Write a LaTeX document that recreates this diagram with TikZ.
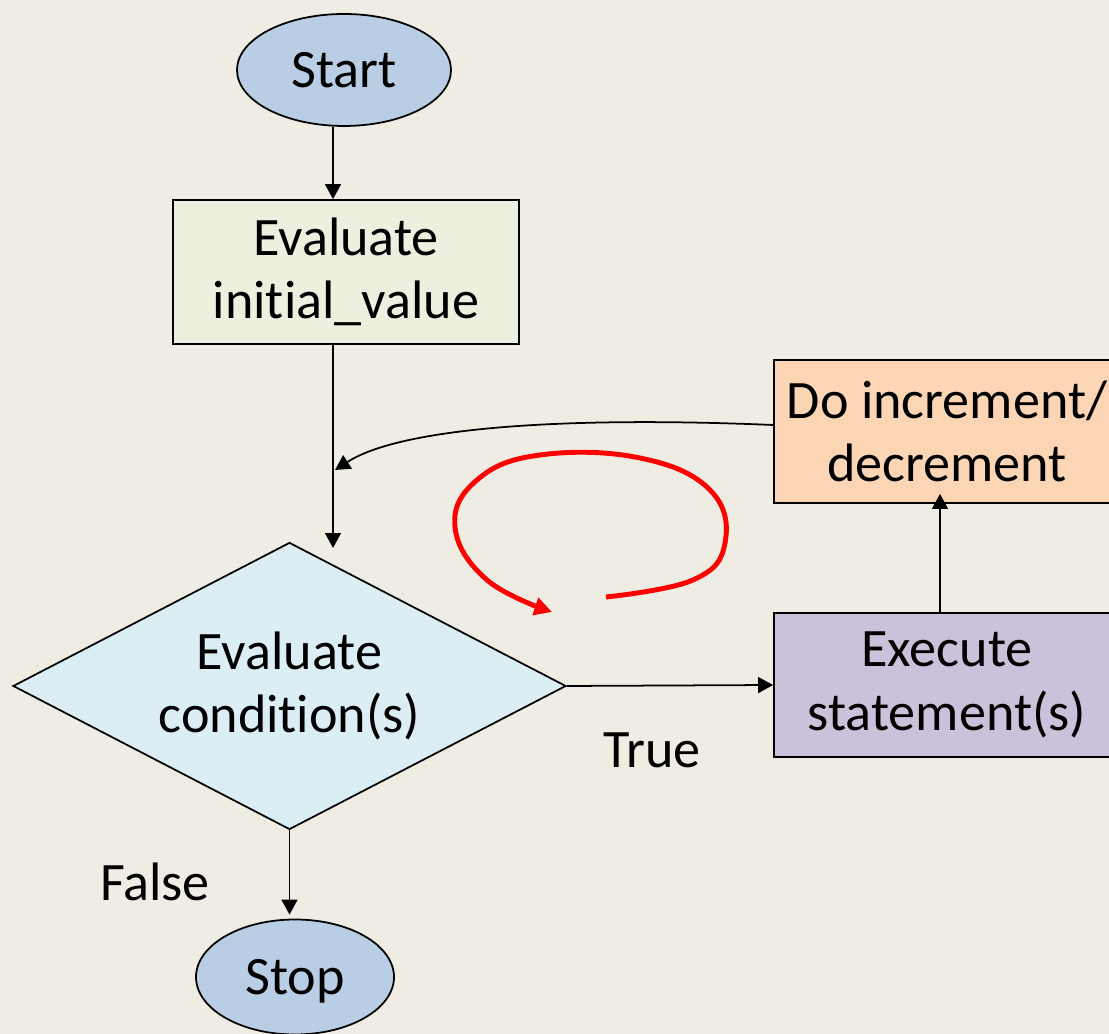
\documentclass[tikz,border=0pt]{standalone}
\usepackage{fontspec}
\setmainfont{Carlito}[Ligatures=NoCommon]
\usepackage{xcolor}
\usetikzlibrary{shapes.geometric, arrows.meta, positioning}

\definecolor{paper}{RGB}{239,236,228}
\definecolor{termblue}{RGB}{185,205,229}
\definecolor{initgreen}{RGB}{235,241,222}
\definecolor{condblue}{RGB}{219,238,244}
\definecolor{incorange}{RGB}{252,213,181}
\definecolor{execpurple}{RGB}{204,193,218}
\newcommand{\chartfont}{\fontsize{30.8}{36}\selectfont}

\begin{document}
\begin{tikzpicture}[
    terminal/.style={
        ellipse, draw=black, line width=1pt,
        minimum width=4.28cm, minimum height=2.24cm,
        inner sep=0pt, text depth=0pt, font=\chartfont
    },
    process/.style={
        rectangle, draw=black, line width=1pt,
        minimum width=6.92cm, minimum height=2.88cm,
        inner sep=0pt, align=center, font=\chartfont
    },
    decision/.style={
        diamond, draw=black, line width=1pt, fill=condblue,
        minimum width=11.06cm, minimum height=5.74cm, aspect=1.93,
        inner sep=0pt, align=center, font=\chartfont
    },
    flow/.style={-{Triangle[length=8.5pt, width=9pt]}, line width=1pt, draw=black},
    loopmark/.style={-{Triangle[length=10pt, width=10pt]}, line width=2.8pt, draw=red},
    branch/.style={font=\chartfont}
]

% Page and background
\useasboundingbox (0,0) rectangle (22.18,20.68);
\fill[paper] (0,0) rectangle (22.18,20.68);
\clip (0,0) rectangle (22.18,20.68);

% Main column
\coordinate (mainx) at (6.66,0);
\coordinate (join) at (6.66,9.72);
\coordinate (loopin) at (6.70,11.28);

% Nodes
\node[terminal, fill=termblue] (start) at (6.88,19.28) {Start};
\node[process, fill=initgreen] (init) at (6.92,15.24) {Evaluate\\initial\_value};
\node[decision] (cond) at (5.79,6.96) {Evaluate\\condition(s)};
\node[terminal, fill=termblue, minimum width=3.96cm, minimum height=2.3cm] (stop) at (5.90,1.14) {Stop};
\node[process, fill=incorange, minimum height=2.86cm] (inc) at (18.94,12.05) {Do increment/\\decrement};
\node[process, fill=execpurple] (exec) at (18.94,6.98) {Execute\\statement(s)};

% Branch labels
\node[branch] (lbltrue) at (13.04,5.68) {True};
\node[branch] (lblfalse) at (3.10,3.04) {False};

% Connectors
\draw[flow] (start.south -| mainx) -- (init.north -| mainx);
\draw[flow] (init.south -| mainx) -- (join);
\draw[flow] (cond.east) -- (exec.west);
\draw[flow, shorten >=0.08cm] (cond.south) -- (stop.north -| cond.south);
\draw[flow] ([xshift=-0.14cm]exec.north) -- ([xshift=-0.14cm, yshift=0.2cm]inc.south);
\draw[flow] ([yshift=0.13cm]inc.west) .. controls (11.2,12.36) and (8.0,12.12) .. (loopin);

% Loop mark
\draw[loopmark] plot[smooth, tension=0.7] coordinates {
    (12.12,8.74) (13.86,9.08) (14.50,9.82) (14.20,10.88) (12.80,11.52)
    (10.80,11.58) (9.54,11.08) (9.10,10.14) (9.74,9.08) (11.04,8.44)};

\end{tikzpicture}
\end{document}
